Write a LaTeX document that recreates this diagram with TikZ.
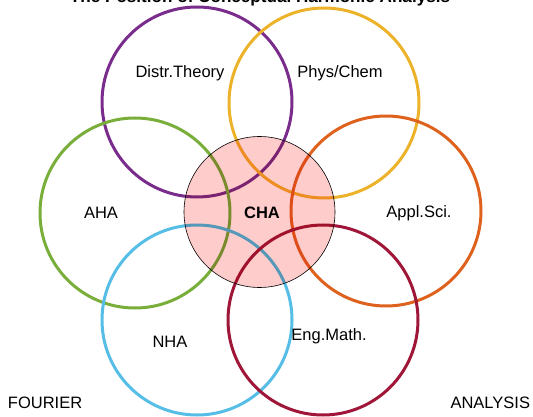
\documentclass[tikz,border=0pt]{standalone}
\usepackage{fontspec}
\setmainfont{Liberation Sans}
\definecolor{cpurple}{RGB}{122,44,140}
\definecolor{cgold}{RGB}{236,178,42}
\definecolor{cgreen}{RGB}{122,174,58}
\definecolor{corange}{RGB}{222,98,30}
\definecolor{cblue}{RGB}{86,190,230}
\definecolor{cdred}{RGB}{160,22,56}
\definecolor{cpink}{RGB}{255,204,204}
\begin{document}
\begin{tikzpicture}[x=1pt,y=-1pt,inner sep=0pt,outer sep=0pt,
ring/.style={draw,circle,line width=3pt,minimum size=190pt},
lbl/.style={font=\fontsize{16.5}{18}\selectfont}]
\useasboundingbox (0,0) rectangle (533,417);
\node[font=\fontsize{17.1}{19}\selectfont\bfseries,anchor=base] (title) at (260,3) {The Position of Conceptual Harmonic Analysis};
% the six fields
\node[ring,draw=cpurple] (dist) at (197,102) {};
\node[ring,draw=cgold] (phys) at (324,103) {};
\node[ring,draw=cgreen] (aha) at (135,213) {};
\node[ring,draw=corange] (appl) at (386,211) {};
\node[ring,draw=cblue] (nha) at (197,320) {};
\node[ring,draw=cdred] (eng) at (323,320) {};
% CHA in the middle
\begin{scope}[blend mode=multiply]
\node[circle,fill=cpink,minimum size=151pt] (chafill) at (259.5,212) {};
\end{scope}
\node[circle,draw=black,line width=0.6pt,minimum size=151pt] (cha) at (259.5,212) {};
\node[lbl] (distl) at (180,73) {Distr.Theory};
\node[lbl] (physl) at (340,73) {Phys/Chem};
\node[lbl] (ahal) at (101,213) {AHA};
\node[lbl] (appll) at (419,213) {Appl.Sci.};
\node[lbl,font=\fontsize{16.5}{18}\selectfont\bfseries] (chal) at (262,213) {CHA};
\node[lbl] (nhal) at (170,342) {NHA};
\node[lbl] (engl) at (329,336) {Eng.Math.};
\node[lbl,anchor=west] (fourier) at (8,403) {FOURIER};
\node[lbl,anchor=east] (analysis) at (530,403) {ANALYSIS};
\end{tikzpicture}
\end{document}
